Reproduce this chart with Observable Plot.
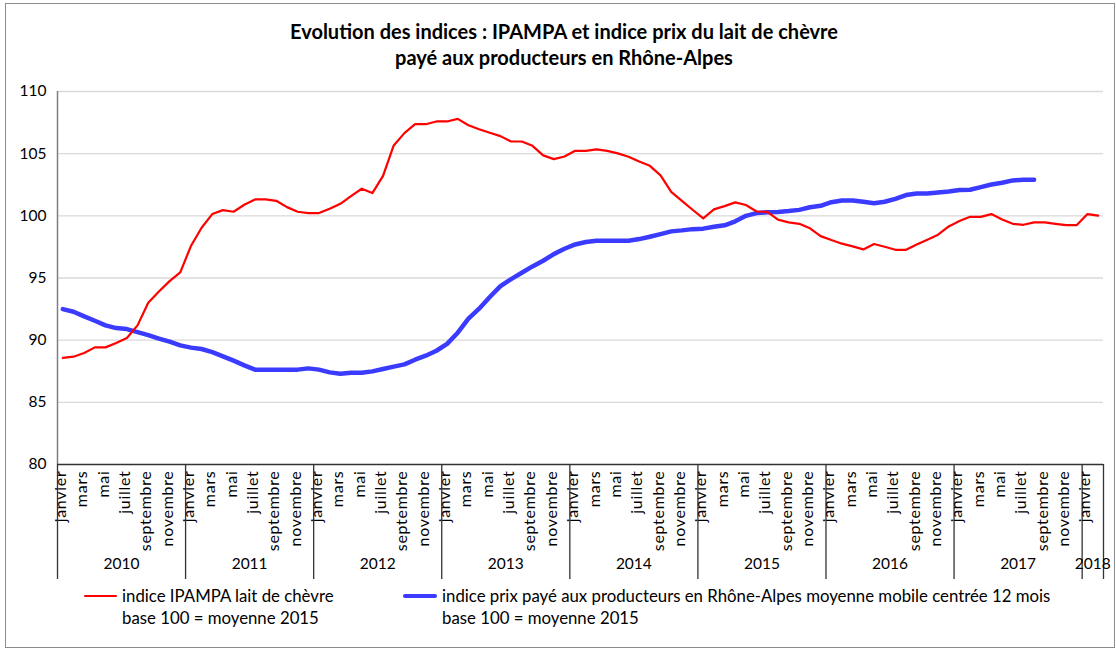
<!DOCTYPE html>
<html>
<head>
<meta charset="utf-8">
<script src="https://cdn.jsdelivr.net/npm/d3@7"></script>
<script src="https://cdn.jsdelivr.net/npm/@observablehq/plot@0.6"></script>
<style>
  html, body { margin: 0; padding: 0; background: #fff; }
  #wrap { position: relative; width: 1116px; height: 650px; font-family: Lato, "Open Sans", sans-serif; color: #000; overflow: hidden; }
  #frame { position: absolute; left: 5px; top: 3px; width: 1110px; height: 645px; border: 1px solid #8c8c8c; box-sizing: border-box; pointer-events: none; }
  #title { box-sizing: border-box; width: 1116px; height: 80px; padding: 18px 0 0 12px; text-align: center; font-weight: bold; font-size: 20px; line-height: 26px; }
  #chart svg { display: block; }
  #legend { position: relative; height: 68px; font-size: 16.8px; }
  .sw { position: absolute; }
  .lt { position: absolute; line-height: 22px; white-space: nowrap; }
</style>
</head>
<body>
<div id="wrap">
  <div id="frame"></div>
  <div id="title">Evolution des indices : IPAMPA et indice prix du lait de chèvre<br>payé aux producteurs en Rhône-Alpes</div>
  <div id="chart"></div>
  <div id="legend"></div>
</div>
<script>
// ---- data ----
const monthNames = ["janvier","février","mars","avril","mai","juin","juillet","août","septembre","octobre","novembre","décembre"];
const years = [2010, 2011, 2012, 2013, 2014, 2015, 2016, 2017, 2018];
const monthCount = 98; // janvier 2010 -> février 2018
const yTicks = [80, 85, 90, 95, 100, 105, 110];

const seriesRedName = "indice IPAMPA lait de chèvre";
const seriesBlueName = "indice prix payé aux producteurs en Rhône-Alpes moyenne mobile centrée 12 mois";
const baseNote = "base 100 = moyenne 2015";

const ipampa = [
  88.57, 88.67, 88.97, 89.42, 89.42, 89.77, 90.17, 91.19, 93.01, 93.92, 94.75, 95.45,
  97.57, 99.04, 100.14, 100.46, 100.33, 100.89, 101.32, 101.32, 101.21, 100.70, 100.33, 100.22,
  100.22, 100.57, 100.97, 101.59, 102.18, 101.83, 103.22, 105.66, 106.65, 107.37, 107.37, 107.59,
  107.59, 107.80, 107.29, 106.97, 106.68, 106.41, 105.98, 105.98, 105.63, 104.86, 104.56, 104.77,
  105.23, 105.23, 105.34, 105.23, 105.02, 104.75, 104.37, 104.02, 103.25, 101.93, 101.21, 100.49,
  99.80, 100.52, 100.78, 101.08, 100.87, 100.35, 100.32, 99.69, 99.47, 99.36, 99.00, 98.37,
  98.05, 97.76, 97.54, 97.30, 97.73, 97.51, 97.27, 97.27, 97.70, 98.08, 98.48, 99.15,
  99.58, 99.92, 99.92, 100.14, 99.71, 99.36, 99.28, 99.47, 99.47, 99.36, 99.26, 99.26,
  100.14, 100.01
];

const prixProducteurs = [
  92.50, 92.29, 91.91, 91.56, 91.19, 90.97, 90.89, 90.65, 90.41, 90.12, 89.88, 89.58,
  89.40, 89.29, 89.04, 88.70, 88.35, 87.97, 87.63, 87.63, 87.63, 87.63, 87.63, 87.73,
  87.63, 87.41, 87.30, 87.38, 87.38, 87.49, 87.68, 87.87, 88.05, 88.43, 88.75, 89.15,
  89.70, 90.60, 91.73, 92.53, 93.47, 94.35, 94.91, 95.42, 95.93, 96.39, 96.92, 97.35,
  97.70, 97.89, 98.00, 98.00, 98.00, 98.00, 98.13, 98.32, 98.53, 98.75, 98.83, 98.93,
  98.97, 99.12, 99.24, 99.56, 100.00, 100.22, 100.28, 100.31, 100.38, 100.48, 100.69, 100.81,
  101.10, 101.24, 101.24, 101.13, 101.02, 101.13, 101.37, 101.67, 101.80, 101.80, 101.88, 101.96,
  102.07, 102.10, 102.31, 102.52, 102.66, 102.85, 102.90, 102.90
];

// ---- derived tables ----
const redData = ipampa.map((v, i) => ({i: i + 0.5, v}));
const blueData = prixProducteurs.map((v, i) => ({i: i + 0.5, v}));
const monthLabels = d3.range(monthCount).filter(i => i % 2 === 0).map(i => ({i: i + 0.5, label: monthNames[i % 12]}));
const yearLabels = years.map((y, k) => {
  const start = k * 12, end = Math.min(monthCount, start + 12);
  return {x: (start + end) / 2, label: String(y)};
});
const separators = years.map((y, k) => k * 12).concat([monthCount]);

// ---- layout ----
const W = 1116, H = 502, mTop = 11, mBottom = 118, mLeft = 57, mRight = 13;
const plotH = H - mTop - mBottom;
const sepLen = 115;

const chart = Plot.plot({
  width: W, height: H,
  marginTop: mTop, marginBottom: mBottom, marginLeft: mLeft, marginRight: mRight,
  style: {fontFamily: "Lato, 'Open Sans', sans-serif", color: "#000", background: "transparent", overflow: "visible"},
  x: {type: "linear", domain: [0, monthCount], axis: null},
  y: {type: "linear", domain: [80, 110], axis: null},
  marks: [
    Plot.ruleY(yTicks.filter(t => t > 80), {stroke: "#d9d9d9", strokeWidth: 1.3}),
    Plot.axisY(yTicks, {tickSize: 0, tickPadding: 11, fontSize: 15.5, label: null, tickFormat: d => String(d)}),
    Plot.ruleX([0], {stroke: "#7f7f7f", strokeWidth: 1.5}),
    Plot.ruleX(separators, {x: d => d, stroke: "#333", strokeWidth: 1.3, insetTop: plotH, insetBottom: -sepLen}),
    Plot.ruleY([80], {stroke: "#333", strokeWidth: 1.3}),
    Plot.line(blueData, {x: "i", y: "v", stroke: "#3b3bff", strokeWidth: 4.5, strokeLinejoin: "round", strokeLinecap: "round"}),
    Plot.line(redData, {x: "i", y: "v", stroke: "#ff0000", strokeWidth: 2.2, strokeLinejoin: "round"}),
    Plot.text(monthLabels, {x: "i", text: "label", frameAnchor: "bottom", dx: 3, dy: 6, rotate: -90, textAnchor: "end", fontSize: 16, fill: "#000"}),
    Plot.text(yearLabels, {x: "x", text: "label", frameAnchor: "bottom", dy: 104, fontSize: 15.5, fill: "#000"})
  ]
});
// slightly wider letter spacing on the month labels, as in the original
d3.select(chart).selectAll("text")
  .filter(function() { return monthNames.includes(this.textContent); })
  .style("letter-spacing", "0.7px");
document.getElementById("chart").appendChild(chart);

// ---- legend ----
const legend = document.getElementById("legend");
function addItem(left, color, thick, w, textLeft, lines) {
  const sw = document.createElement("div");
  sw.className = "sw";
  sw.style.left = left + "px";
  sw.style.width = w + "px";
  sw.style.top = (14 - thick / 2) + "px";
  sw.style.height = thick + "px";
  sw.style.background = color;
  sw.style.borderRadius = (thick / 2) + "px";
  legend.appendChild(sw);
  lines.forEach((t, k) => {
    const d = document.createElement("div");
    d.className = "lt";
    d.style.left = textLeft + "px";
    d.style.top = (3 + k * 22) + "px";
    d.textContent = t;
    legend.appendChild(d);
  });
}
addItem(84, "#ff0000", 2.2, 33, 122, [seriesRedName, baseNote]);
addItem(403, "#3b3bff", 4.5, 34, 442, [seriesBlueName, baseNote]);
</script>
</body>
</html>
